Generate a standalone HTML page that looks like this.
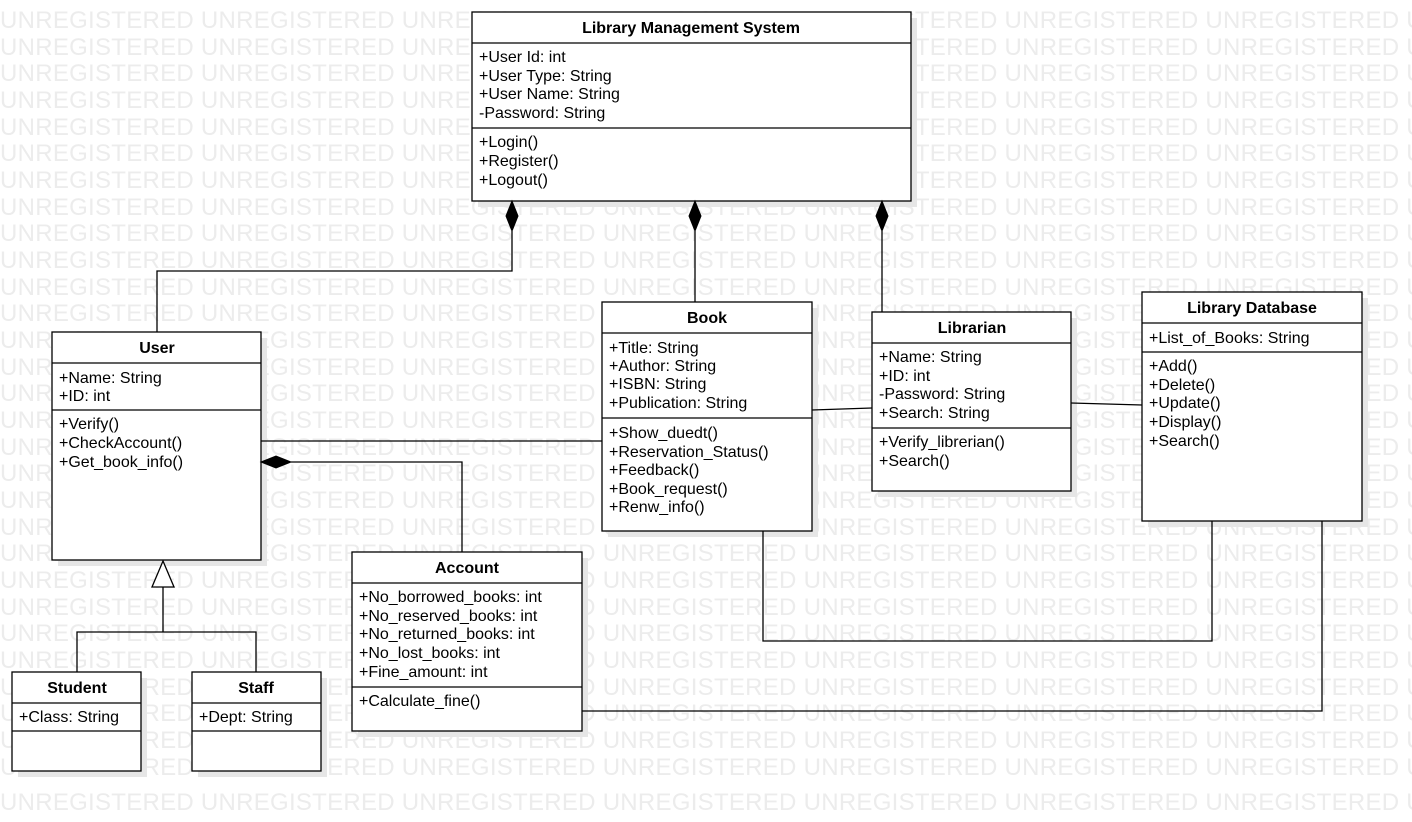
<!DOCTYPE html>
<html><head><meta charset="utf-8"><style>
html,body{margin:0;padding:0;background:#fff;}
svg{display:block;}
.wm{font-family:"Liberation Sans",sans-serif;font-size:24px;fill:#ececec;}
.t{font-family:"Liberation Sans",sans-serif;font-size:16px;fill:#000;}
.b{font-weight:bold;text-anchor:middle;}
.box{fill:#fff;stroke:#000;stroke-width:1.3;}
.sh{fill:#e6e6e6;}
.ln{stroke:#000;stroke-width:1.3;fill:none;}
</style></head><body>
<svg width="1412" height="822" xmlns="http://www.w3.org/2000/svg">
<g class="wm">
<text x="0" y="28" textLength="1600" lengthAdjust="spacing">UNREGISTERED UNREGISTERED UNREGISTERED UNREGISTERED UNREGISTERED UNREGISTERED UNREGISTERED UNREGISTERED</text>
<text x="0" y="55" textLength="1600" lengthAdjust="spacing">UNREGISTERED UNREGISTERED UNREGISTERED UNREGISTERED UNREGISTERED UNREGISTERED UNREGISTERED UNREGISTERED</text>
<text x="0" y="81" textLength="1600" lengthAdjust="spacing">UNREGISTERED UNREGISTERED UNREGISTERED UNREGISTERED UNREGISTERED UNREGISTERED UNREGISTERED UNREGISTERED</text>
<text x="0" y="108" textLength="1600" lengthAdjust="spacing">UNREGISTERED UNREGISTERED UNREGISTERED UNREGISTERED UNREGISTERED UNREGISTERED UNREGISTERED UNREGISTERED</text>
<text x="0" y="135" textLength="1600" lengthAdjust="spacing">UNREGISTERED UNREGISTERED UNREGISTERED UNREGISTERED UNREGISTERED UNREGISTERED UNREGISTERED UNREGISTERED</text>
<text x="0" y="161" textLength="1600" lengthAdjust="spacing">UNREGISTERED UNREGISTERED UNREGISTERED UNREGISTERED UNREGISTERED UNREGISTERED UNREGISTERED UNREGISTERED</text>
<text x="0" y="188" textLength="1600" lengthAdjust="spacing">UNREGISTERED UNREGISTERED UNREGISTERED UNREGISTERED UNREGISTERED UNREGISTERED UNREGISTERED UNREGISTERED</text>
<text x="0" y="215" textLength="1600" lengthAdjust="spacing">UNREGISTERED UNREGISTERED UNREGISTERED UNREGISTERED UNREGISTERED UNREGISTERED UNREGISTERED UNREGISTERED</text>
<text x="0" y="241" textLength="1600" lengthAdjust="spacing">UNREGISTERED UNREGISTERED UNREGISTERED UNREGISTERED UNREGISTERED UNREGISTERED UNREGISTERED UNREGISTERED</text>
<text x="0" y="268" textLength="1600" lengthAdjust="spacing">UNREGISTERED UNREGISTERED UNREGISTERED UNREGISTERED UNREGISTERED UNREGISTERED UNREGISTERED UNREGISTERED</text>
<text x="0" y="295" textLength="1600" lengthAdjust="spacing">UNREGISTERED UNREGISTERED UNREGISTERED UNREGISTERED UNREGISTERED UNREGISTERED UNREGISTERED UNREGISTERED</text>
<text x="0" y="321" textLength="1600" lengthAdjust="spacing">UNREGISTERED UNREGISTERED UNREGISTERED UNREGISTERED UNREGISTERED UNREGISTERED UNREGISTERED UNREGISTERED</text>
<text x="0" y="348" textLength="1600" lengthAdjust="spacing">UNREGISTERED UNREGISTERED UNREGISTERED UNREGISTERED UNREGISTERED UNREGISTERED UNREGISTERED UNREGISTERED</text>
<text x="0" y="375" textLength="1600" lengthAdjust="spacing">UNREGISTERED UNREGISTERED UNREGISTERED UNREGISTERED UNREGISTERED UNREGISTERED UNREGISTERED UNREGISTERED</text>
<text x="0" y="401" textLength="1600" lengthAdjust="spacing">UNREGISTERED UNREGISTERED UNREGISTERED UNREGISTERED UNREGISTERED UNREGISTERED UNREGISTERED UNREGISTERED</text>
<text x="0" y="428" textLength="1600" lengthAdjust="spacing">UNREGISTERED UNREGISTERED UNREGISTERED UNREGISTERED UNREGISTERED UNREGISTERED UNREGISTERED UNREGISTERED</text>
<text x="0" y="455" textLength="1600" lengthAdjust="spacing">UNREGISTERED UNREGISTERED UNREGISTERED UNREGISTERED UNREGISTERED UNREGISTERED UNREGISTERED UNREGISTERED</text>
<text x="0" y="481" textLength="1600" lengthAdjust="spacing">UNREGISTERED UNREGISTERED UNREGISTERED UNREGISTERED UNREGISTERED UNREGISTERED UNREGISTERED UNREGISTERED</text>
<text x="0" y="508" textLength="1600" lengthAdjust="spacing">UNREGISTERED UNREGISTERED UNREGISTERED UNREGISTERED UNREGISTERED UNREGISTERED UNREGISTERED UNREGISTERED</text>
<text x="0" y="535" textLength="1600" lengthAdjust="spacing">UNREGISTERED UNREGISTERED UNREGISTERED UNREGISTERED UNREGISTERED UNREGISTERED UNREGISTERED UNREGISTERED</text>
<text x="0" y="561" textLength="1600" lengthAdjust="spacing">UNREGISTERED UNREGISTERED UNREGISTERED UNREGISTERED UNREGISTERED UNREGISTERED UNREGISTERED UNREGISTERED</text>
<text x="0" y="588" textLength="1600" lengthAdjust="spacing">UNREGISTERED UNREGISTERED UNREGISTERED UNREGISTERED UNREGISTERED UNREGISTERED UNREGISTERED UNREGISTERED</text>
<text x="0" y="615" textLength="1600" lengthAdjust="spacing">UNREGISTERED UNREGISTERED UNREGISTERED UNREGISTERED UNREGISTERED UNREGISTERED UNREGISTERED UNREGISTERED</text>
<text x="0" y="641" textLength="1600" lengthAdjust="spacing">UNREGISTERED UNREGISTERED UNREGISTERED UNREGISTERED UNREGISTERED UNREGISTERED UNREGISTERED UNREGISTERED</text>
<text x="0" y="668" textLength="1600" lengthAdjust="spacing">UNREGISTERED UNREGISTERED UNREGISTERED UNREGISTERED UNREGISTERED UNREGISTERED UNREGISTERED UNREGISTERED</text>
<text x="0" y="695" textLength="1600" lengthAdjust="spacing">UNREGISTERED UNREGISTERED UNREGISTERED UNREGISTERED UNREGISTERED UNREGISTERED UNREGISTERED UNREGISTERED</text>
<text x="0" y="721" textLength="1600" lengthAdjust="spacing">UNREGISTERED UNREGISTERED UNREGISTERED UNREGISTERED UNREGISTERED UNREGISTERED UNREGISTERED UNREGISTERED</text>
<text x="0" y="748" textLength="1600" lengthAdjust="spacing">UNREGISTERED UNREGISTERED UNREGISTERED UNREGISTERED UNREGISTERED UNREGISTERED UNREGISTERED UNREGISTERED</text>
<text x="0" y="775" textLength="1600" lengthAdjust="spacing">UNREGISTERED UNREGISTERED UNREGISTERED UNREGISTERED UNREGISTERED UNREGISTERED UNREGISTERED UNREGISTERED</text>
<text x="0" y="810" textLength="1600" lengthAdjust="spacing">UNREGISTERED UNREGISTERED UNREGISTERED UNREGISTERED UNREGISTERED UNREGISTERED UNREGISTERED UNREGISTERED</text>
</g>

<g class="sh">
<rect x="478" y="18" width="439" height="189"/>
<rect x="58" y="338" width="209" height="228"/>
<rect x="608" y="308" width="210" height="229"/>
<rect x="878" y="318" width="199" height="179"/>
<rect x="1148" y="298" width="220" height="229"/>
<rect x="358" y="558" width="230" height="179"/>
<rect x="18" y="678" width="129" height="99"/>
<rect x="198" y="678" width="129" height="99"/>
</g>

<g class="ln">
<polyline points="512,231 512,271 157,271 157,332"/>
<line x1="695" y1="231" x2="695" y2="302"/>
<line x1="882" y1="231" x2="882" y2="312"/>
<line x1="261" y1="441" x2="602" y2="441"/>
<polyline points="291,462 462,462 462,552"/>
<line x1="812" y1="410" x2="872" y2="408"/>
<line x1="1071" y1="403" x2="1142" y2="405"/>
<polyline points="763,531 763,641 1212,641 1212,521"/>
<polyline points="582,711 1322,711 1322,521"/>
<polyline points="163,587 163,632"/>
<polyline points="77,672 77,632 256,632 256,672"/>
</g>

<g>
<rect class="box" x="472" y="12" width="439" height="189"/>
<line class="ln" x1="472" y1="43" x2="911" y2="43"/><line class="ln" x1="472" y1="128" x2="911" y2="128"/>
<rect class="box" x="52" y="332" width="209" height="228"/>
<line class="ln" x1="52" y1="363" x2="261" y2="363"/><line class="ln" x1="52" y1="410" x2="261" y2="410"/>
<rect class="box" x="602" y="302" width="210" height="229"/>
<line class="ln" x1="602" y1="333" x2="812" y2="333"/><line class="ln" x1="602" y1="418" x2="812" y2="418"/>
<rect class="box" x="872" y="312" width="199" height="179"/>
<line class="ln" x1="872" y1="343" x2="1071" y2="343"/><line class="ln" x1="872" y1="428" x2="1071" y2="428"/>
<rect class="box" x="1142" y="292" width="220" height="229"/>
<line class="ln" x1="1142" y1="323" x2="1362" y2="323"/><line class="ln" x1="1142" y1="352" x2="1362" y2="352"/>
<rect class="box" x="352" y="552" width="230" height="179"/>
<line class="ln" x1="352" y1="583" x2="582" y2="583"/><line class="ln" x1="352" y1="687" x2="582" y2="687"/>
<rect class="box" x="12" y="672" width="129" height="99"/>
<line class="ln" x1="12" y1="703" x2="141" y2="703"/><line class="ln" x1="12" y1="731" x2="141" y2="731"/>
<rect class="box" x="192" y="672" width="129" height="99"/>
<line class="ln" x1="192" y1="703" x2="321" y2="703"/><line class="ln" x1="192" y1="731" x2="321" y2="731"/>
</g>

<g fill="#000" stroke="#000" stroke-width="1">
<polygon points="512,201 518,216 512,231 506,216"/>
<polygon points="695,201 701,216 695,231 689,216"/>
<polygon points="882,201 888,216 882,231 876,216"/>
<polygon points="261,462 276,456 291,462 276,468"/>
</g>
<polygon points="163,561 174,587 152,587" fill="#fff" stroke="#000" stroke-width="1.3"/>

<g class="t">
<text class="b" x="691" y="33">Library Management System</text>
<text x="479" y="62">+User Id: int</text>
<text x="479" y="81">+User Type: String</text>
<text x="479" y="99">+User Name: String</text>
<text x="479" y="118">-Password: String</text>
<text x="479" y="147">+Login()</text>
<text x="479" y="166">+Register()</text>
<text x="479" y="185">+Logout()</text>

<text class="b" x="157" y="353">User</text>
<text x="59" y="383">+Name: String</text>
<text x="59" y="401">+ID: int</text>
<text x="59" y="429">+Verify()</text>
<text x="59" y="448">+CheckAccount()</text>
<text x="59" y="467">+Get_book_info()</text>

<text class="b" x="707" y="323">Book</text>
<text x="609" y="353">+Title: String</text>
<text x="609" y="371">+Author: String</text>
<text x="609" y="389">+ISBN: String</text>
<text x="609" y="408">+Publication: String</text>
<text x="609" y="438">+Show_duedt()</text>
<text x="609" y="457">+Reservation_Status()</text>
<text x="609" y="475">+Feedback()</text>
<text x="609" y="494">+Book_request()</text>
<text x="609" y="512">+Renw_info()</text>

<text class="b" x="972" y="333">Librarian</text>
<text x="879" y="362">+Name: String</text>
<text x="879" y="381">+ID: int</text>
<text x="879" y="399">-Password: String</text>
<text x="879" y="418">+Search: String</text>
<text x="879" y="447">+Verify_librerian()</text>
<text x="879" y="466">+Search()</text>

<text class="b" x="1252" y="313">Library Database</text>
<text x="1149" y="343">+List_of_Books: String</text>
<text x="1149" y="371">+Add()</text>
<text x="1149" y="390">+Delete()</text>
<text x="1149" y="408">+Update()</text>
<text x="1149" y="427">+Display()</text>
<text x="1149" y="446">+Search()</text>

<text class="b" x="467" y="573">Account</text>
<text x="359" y="602">+No_borrowed_books: int</text>
<text x="359" y="621">+No_reserved_books: int</text>
<text x="359" y="639">+No_returned_books: int</text>
<text x="359" y="658">+No_lost_books: int</text>
<text x="359" y="677">+Fine_amount: int</text>
<text x="359" y="706">+Calculate_fine()</text>

<text class="b" x="77" y="693">Student</text>
<text x="19" y="722">+Class: String</text>
<text class="b" x="256" y="693">Staff</text>
<text x="199" y="722">+Dept: String</text>
</g>
</svg>
</body></html>
